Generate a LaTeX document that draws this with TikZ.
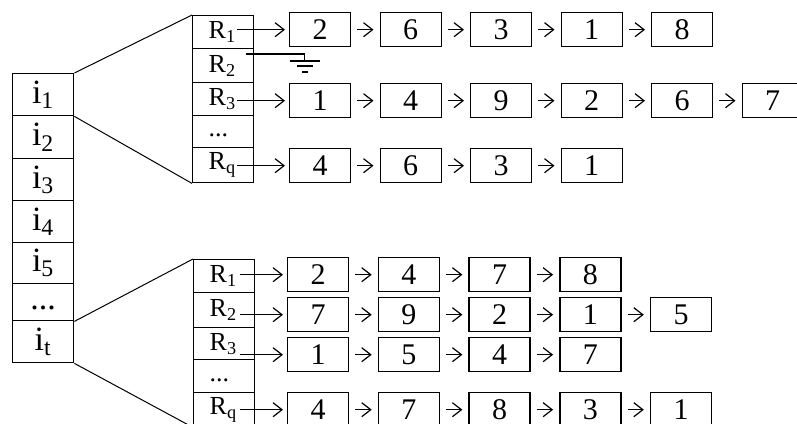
\documentclass[tikz,border=0pt]{standalone}
\usepackage{fontspec}
\setmainfont{Liberation Serif}
\usetikzlibrary{arrows.meta,calc}
\newcommand\celldots{\smash{\raisebox{-0.2em}{...}}}

\begin{document}
\begin{tikzpicture}[x=0.5pt,y=-0.5pt,>={Straight Barb[length=4.5pt,width=7pt]},
  icell/.style={draw, line width=0.7pt, inner sep=0pt, minimum width=30.5pt, anchor=north west, font=\fontsize{17}{17}\selectfont},
  rcell/.style={draw, line width=0.7pt, inner xsep=8pt, inner ysep=0pt, text width=14.5pt, align=left, anchor=north west, font=\fontsize{13}{13}\selectfont},
  val/.style={draw, line width=0.7pt, inner sep=0pt, minimum width=30.5pt, minimum height=17pt, anchor=north west, font=\fontsize{15}{15}\selectfont},
  link/.style={->, line width=0.6pt, shorten <=3pt, shorten >=3pt},
  feed/.style={->, line width=0.6pt, shorten >=2pt}]
\useasboundingbox (0,0) rectangle (797,423);
\clip (0,0) rectangle (797,423);

% index column
\foreach \n/\t/\b/\lab in {1/73/115/i\textsubscript{1}, 2/115/158/i\textsubscript{2}, 3/158/200/i\textsubscript{3},
    4/200/242/i\textsubscript{4}, 5/242/283/i\textsubscript{5}, 6/283/320/\celldots, 7/320/362/i\textsubscript{t}} {
  \pgfmathsetmacro\h{(\b-\t)/2}
  \node[icell, minimum height=\h pt] (i\n) at (12,\t) {\lab};
}

% record columns
\foreach \n/\t/\b/\lab in {1/15/48/R\textsubscript{1}, 2/48/82/R\textsubscript{2}, 3/82/115/R\textsubscript{3},
    4/115/147/\celldots, 5/147/182/R\textsubscript{q}} {
  \pgfmathsetmacro\h{(\b-\t)/2}
  \node[rcell, minimum height=\h pt] (ra\n) at (192,\t) {\lab};
}
\foreach \n/\t/\b/\lab in {1/259/292/R\textsubscript{1}, 2/292/327/R\textsubscript{2}, 3/327/359/R\textsubscript{3},
    4/359/392/\celldots, 5/392/426/R\textsubscript{q}} {
  \pgfmathsetmacro\h{(\b-\t)/2}
  \node[rcell, minimum height=\h pt] (rb\n) at (193,\t) {\lab};
}

\draw[line width=0.5pt] (i1.north east) -- (ra1.north west);
\draw[line width=0.5pt] (i1.south east) -- (ra5.south west);
\draw[line width=0.5pt] (i6.south east) -- (rb1.north west);
\draw[line width=0.5pt] (i7.south east) -- (rb5.south west);

% lists, upper block
\foreach \row/\rc/\y/\vals in {t1/ra1/12/{2,6,3,1,8}, t3/ra3/83/{1,4,9,2,6,7}, tq/ra5/148/{4,6,3,1}} {
  \foreach \v [count=\k, remember=\k as \p (initially 0)] in \vals {
    \node[val] (\row-\k) at ({289+90.5*(\k-1)},\y) {\v};
    \ifnum\k>1 \draw[link] (\row-\p.east) -- (\row-\k.west); \fi
  }
  \draw[feed] ($(\rc.west |- \row-1.west)+(45,0)$) -- (\row-1.west);
}

% lists, lower block
\foreach \row/\rc/\y/\vals in {b1/rb1/257/{2,4,7,8}, b2/rb2/297/{7,9,2,1,5}, b3/rb3/337/{1,5,4,7}, bq/rb5/392/{4,7,8,3,1}} {
  \foreach \v [count=\k, remember=\k as \p (initially 0)] in \vals {
    \node[val] (\row-\k) at ({287+90.7*(\k-1)},\y) {\v};
    \ifnum\k>1 \draw[link] (\row-\p.east) -- (\row-\k.west); \fi
  }
  \draw[feed] ($(\rc.west |- \row-1.west)+(47,0)$) -- (\row-1.west);
}

% empty list for R2
\coordinate (g0) at ($(ra2.north east)+(-8,6)$);
\draw[line width=0.6pt] (g0) -- ++(58,0) coordinate (g1) -- ++(0,7) coordinate (g2);
\draw[line width=0.6pt] ($(g2)+(-14,0)$) -- ++(30,0);
\draw[line width=0.6pt] ($(g2)+(-7,5)$) -- ++(16,0);
\draw[line width=0.6pt] ($(g2)+(-2,11)$) -- ++(6,0);
\end{tikzpicture}
\end{document}
